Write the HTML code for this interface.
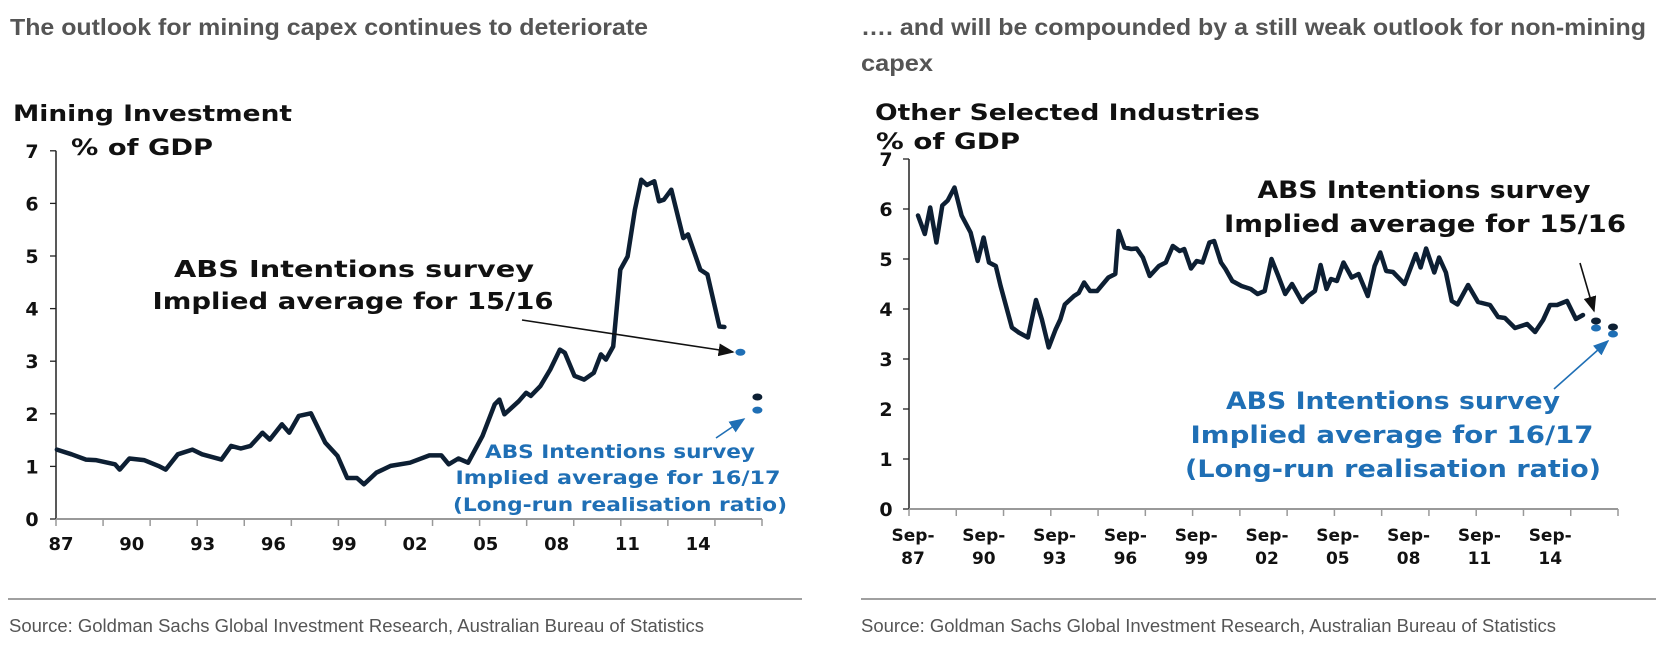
<!DOCTYPE html>
<html><head><meta charset="utf-8"><style>
html,body{margin:0;padding:0;background:#fff;}
svg{display:block;}
.t{font-family:"Liberation Sans",sans-serif;font-weight:bold;fill:#555;font-size:23px;}
.s{font-family:"Liberation Sans",sans-serif;fill:#555;font-size:18px;}
.v{font-family:"DejaVu Sans",sans-serif;font-weight:bold;fill:#111;}
.b{font-family:"DejaVu Sans",sans-serif;font-weight:bold;fill:#1f6fb5;}
</style></head><body>
<svg id="svg" width="1672" height="649" viewBox="0 0 1672 649">
<defs>
<marker id="ak" markerWidth="10" markerHeight="8" refX="9" refY="4" orient="auto"><path d="M0,0 L10,4 L0,8 z" fill="#111"/></marker>
<marker id="ab" markerWidth="10" markerHeight="8" refX="9" refY="4" orient="auto"><path d="M0,0 L10,4 L0,8 z" fill="#1f6fb5"/></marker>
</defs>
<text class="t" x="10" y="35" textLength="638" lengthAdjust="spacingAndGlyphs">The outlook for mining capex continues to deteriorate</text>
<text class="t" x="861" y="35" textLength="785" lengthAdjust="spacingAndGlyphs">…. and will be compounded by a still weak outlook for non-mining</text>
<text class="t" x="861" y="71" textLength="72" lengthAdjust="spacingAndGlyphs">capex</text>
<line x1="8" y1="599" x2="802" y2="599" stroke="#a0a0a0" stroke-width="2"/>
<line x1="861" y1="599" x2="1656" y2="599" stroke="#a0a0a0" stroke-width="2"/>
<text class="s" x="9" y="632" textLength="695" lengthAdjust="spacingAndGlyphs">Source: Goldman Sachs Global Investment Research, Australian Bureau of Statistics</text>
<text class="s" x="861" y="632" textLength="695" lengthAdjust="spacingAndGlyphs">Source: Goldman Sachs Global Investment Research, Australian Bureau of Statistics</text>

<text class="v" x="13" y="121" font-size="22" textLength="279" lengthAdjust="spacingAndGlyphs">Mining Investment</text>
<text class="v" x="71" y="155" font-size="22" textLength="142" lengthAdjust="spacingAndGlyphs">% of GDP</text>
<text class="v" x="875" y="120" font-size="22" textLength="385" lengthAdjust="spacingAndGlyphs">Other Selected Industries</text>
<text class="v" x="876" y="149" font-size="22" textLength="144" lengthAdjust="spacingAndGlyphs">% of GDP</text>

<g id="left"></g>
<g id="right"></g>

<line x1="522" y1="320" x2="733" y2="352" stroke="#111" stroke-width="1.6" marker-end="url(#ak)"/>
<line x1="716" y1="438" x2="744" y2="419" stroke="#1f6fb5" stroke-width="1.6" marker-end="url(#ab)"/>
<text class="v" x="354" y="277" font-size="23" text-anchor="middle" textLength="360" lengthAdjust="spacingAndGlyphs">ABS Intentions survey</text>
<text class="v" x="353" y="309" font-size="23" text-anchor="middle" textLength="401" lengthAdjust="spacingAndGlyphs">Implied average for 15/16</text>
<text class="b" x="620" y="458" font-size="19" text-anchor="middle" textLength="270" lengthAdjust="spacingAndGlyphs">ABS Intentions survey</text>
<text class="b" x="618" y="484" font-size="19" text-anchor="middle" textLength="325" lengthAdjust="spacingAndGlyphs">Implied average for 16/17</text>
<text class="b" x="620" y="511" font-size="19" text-anchor="middle" textLength="334" lengthAdjust="spacingAndGlyphs">(Long-run realisation  ratio)</text>

<line x1="1580" y1="263" x2="1594" y2="311" stroke="#111" stroke-width="1.6" marker-end="url(#ak)"/>
<line x1="1554" y1="389" x2="1608" y2="341" stroke="#1f6fb5" stroke-width="1.6" marker-end="url(#ab)"/>
<text class="v" x="1424" y="198" font-size="24" text-anchor="middle" textLength="333" lengthAdjust="spacingAndGlyphs">ABS Intentions survey</text>
<text class="v" x="1425" y="232" font-size="24" text-anchor="middle" textLength="402" lengthAdjust="spacingAndGlyphs">Implied average for 15/16</text>
<text class="b" x="1393" y="409" font-size="24" text-anchor="middle" textLength="334" lengthAdjust="spacingAndGlyphs">ABS Intentions survey</text>
<text class="b" x="1392" y="443" font-size="24" text-anchor="middle" textLength="403" lengthAdjust="spacingAndGlyphs">Implied average for 16/17</text>
<text class="b" x="1393" y="477" font-size="24" text-anchor="middle" textLength="416" lengthAdjust="spacingAndGlyphs">(Long-run realisation ratio)</text>
</svg>
<script>
// ---- Left chart data (mining investment, % of GDP) ----
const leftYears = [1987.04,1987.66,1988.27,1988.68,1989.5,1989.7,1990.11,1990.73,1991.34,1991.65,1992.16,1992.78,1993.19,1994.01,1994.42,1994.83,1995.24,1995.75,1996.06,1996.57,1996.88,1997.29,1997.8,1998.41,1998.93,1999.34,1999.75,2000.05,2000.57,2001.18,2002.0,2002.82,2003.33,2003.64,2004.05,2004.46,2005.07,2005.59,2005.79,2006.0,2006.61,2006.92,2007.12,2007.53,2007.94,2008.35,2008.56,2008.97,2009.38,2009.79,2010.09,2010.3,2010.61,2010.91,2011.22,2011.53,2011.8,2012.04,2012.35,2012.55,2012.76,2013.07,2013.58,2013.78,2014.3,2014.6,2015.11,2015.32];
const leftValues = [1.32,1.23,1.13,1.12,1.04,0.94,1.15,1.12,1.01,0.94,1.23,1.32,1.23,1.13,1.39,1.34,1.39,1.64,1.51,1.80,1.64,1.96,2.01,1.45,1.20,0.78,0.78,0.66,0.88,1.01,1.07,1.21,1.21,1.04,1.15,1.07,1.58,2.18,2.27,1.99,2.24,2.40,2.34,2.53,2.84,3.22,3.16,2.72,2.65,2.78,3.13,3.03,3.28,4.74,4.99,5.88,6.45,6.35,6.42,6.04,6.07,6.26,5.34,5.41,4.74,4.65,3.66,3.65];
const leftSurveyYears = [2016.0, 2016.72, 2016.72];
const leftSurveyValues = [3.17, 2.32, 2.07];
const leftSurveyKinds = ['blue','dark','blue'];
const leftTicks = [0,1,2,3,4,5,6,7];
const leftXLabels = ['87','90','93','96','99','02','05','08','11','14'];
const leftXLabelYears = [1987,1990,1993,1996,1999,2002,2005,2008,2011,2014];

// ---- Right chart data (other selected industries, % of GDP) ----
const rightYears = [1988.13,1988.42,1988.65,1988.91,1989.16,1989.39,1989.68,1989.98,1990.36,1990.66,1990.91,1991.14,1991.43,1991.63,1992.11,1992.4,1992.79,1993.13,1993.38,1993.67,1993.96,1994.16,1994.35,1994.74,1994.94,1995.17,1995.42,1995.72,1996.2,1996.49,1996.63,1996.88,1997.17,1997.4,1997.66,1997.95,1998.34,1998.63,1998.93,1999.22,1999.41,1999.7,1999.94,2000.19,2000.48,2000.68,2000.97,2001.16,2001.45,2001.84,2002.23,2002.52,2002.82,2003.11,2003.4,2003.69,2003.98,2004.41,2004.66,2004.95,2005.19,2005.44,2005.63,2005.88,2006.16,2006.51,2006.8,2007.19,2007.48,2007.72,2007.97,2008.26,2008.75,2009.23,2009.43,2009.66,2010.01,2010.21,2010.5,2010.75,2010.99,2011.44,2011.86,2012.37,2012.71,2013.0,2013.43,2013.94,2014.28,2014.62,2014.91,2015.21,2015.63,2016.01,2016.31];
const rightValues = [5.87,5.5,6.03,5.33,6.07,6.17,6.43,5.87,5.53,4.96,5.43,4.93,4.86,4.46,3.63,3.53,3.43,4.18,3.79,3.23,3.59,3.79,4.09,4.26,4.32,4.53,4.36,4.36,4.63,4.70,5.56,5.23,5.2,5.21,5.03,4.66,4.86,4.93,5.26,5.16,5.2,4.81,4.96,4.93,5.33,5.36,4.93,4.80,4.56,4.46,4.40,4.30,4.36,5.0,4.66,4.30,4.50,4.14,4.26,4.36,4.88,4.40,4.60,4.56,4.93,4.63,4.70,4.26,4.86,5.13,4.76,4.74,4.50,5.10,4.83,5.21,4.73,5.03,4.73,4.16,4.09,4.48,4.14,4.08,3.84,3.82,3.62,3.7,3.54,3.78,4.08,4.08,4.16,3.8,3.88];
const rightSurveyYears = [2016.86, 2016.86, 2017.58, 2017.58];
const rightSurveyValues = [3.76, 3.62, 3.64, 3.50];
const rightSurveyKinds = ['dark','blue','dark','blue'];
const rightTicks = [0,1,2,3,4,5,6,7];
const rightXLabels = ['87','90','93','96','99','02','05','08','11','14'];
const rightXLabelYears = [1987.75,1990.75,1993.75,1996.75,1999.75,2002.75,2005.75,2008.75,2011.75,2014.75];

const NS='http://www.w3.org/2000/svg';
function mk(tag, attrs, parent){const e=document.createElementNS(NS,tag);for(const k in attrs)e.setAttribute(k,attrs[k]);parent.appendChild(e);return e;}

function drawChart(g, cfg){
  const xs=y=>cfg.x0+(y-cfg.year0)*cfg.pxYear;
  const ys=v=>cfg.y0-v*cfg.pxUnit;
  // axes
  const ya=mk('line',{x1:cfg.x0,y1:ys(7),x2:cfg.x0,y2:cfg.y0,stroke:'#222','stroke-width':1.5},g);
  
  
  const xa=mk('line',{x1:cfg.x0,y1:cfg.y0,x2:cfg.xEnd,y2:cfg.y0,stroke:'#999','stroke-width':2},g);
  
  
  cfg.ticks.forEach(t=>{
    const tk=mk('line',{x1:cfg.x0-6,y1:ys(t),x2:cfg.x0,y2:ys(t),stroke:'#222','stroke-width':1.3},g);
    
    
    const lb=mk('text',{x:cfg.yLabX,y:ys(t)+7,'text-anchor':'middle','font-size':19,class:'v'},g);
    lb.textContent=String(t);
    
    
  });
  for(let i=0;i<=15;i++){
    const xx=cfg.x0+i*(cfg.xEnd-cfg.x0)/15;
    const tk=mk('line',{x1:xx,y1:cfg.y0,x2:xx,y2:cfg.y0+7,stroke:'#999','stroke-width':1.5},g);
    
    
  }
  cfg.xLabels.forEach((l,i)=>{
    const xx=xs(cfg.xLabelYears[i])+cfg.labOff;
    if(cfg.sep){
      const a=mk('text',{x:xx,y:cfg.labY,'text-anchor':'middle','font-size':17,class:'v'},g);
      a.textContent='Sep-';
      
      
      const b=mk('text',{x:xx,y:cfg.labY+23,'text-anchor':'middle','font-size':17,class:'v'},g);
      b.textContent=l;
      
      
    } else {
      const a=mk('text',{x:xx,y:cfg.labY,'text-anchor':'middle','font-size':18,class:'v'},g);
      a.textContent=l;
      
      
    }
  });
  const d=cfg.years.map((y,i)=>(i?'L':'M')+xs(y).toFixed(1)+','+ys(cfg.values[i]).toFixed(1)).join(' ');
  const p=mk('path',{d:d,fill:'none',stroke:'#0d1f33','stroke-width':4.5,'stroke-linejoin':'round','stroke-linecap':'round'},g);
  
  
  cfg.sYears.forEach((y,i)=>{
    const e=mk('ellipse',{cx:xs(y),cy:ys(cfg.sValues[i]),rx:5,ry:3.5,fill:cfg.sKinds[i]==='blue'?'#1f6fb5':'#0d1f33'},g);
    
    
  });
}
drawChart(document.getElementById('left'),{x0:56,xEnd:762,y0:519,pxUnit:52.6,year0:1987,pxYear:23.6,ticks:leftTicks,yLabX:32,
  years:leftYears,values:leftValues,sYears:leftSurveyYears,sValues:leftSurveyValues,sKinds:leftSurveyKinds,
  xLabels:leftXLabels,xLabelYears:leftXLabelYears,labOff:5,labY:550,sep:false});
drawChart(document.getElementById('right'),{x0:909,xEnd:1618,y0:509,pxUnit:50,year0:1987.75,pxYear:23.6,ticks:rightTicks,yLabX:886,
  years:rightYears,values:rightValues,sYears:rightSurveyYears,sValues:rightSurveyValues,sKinds:rightSurveyKinds,
  xLabels:rightXLabels,xLabelYears:rightXLabelYears,labOff:4,labY:541,sep:true});
</script>
</body></html>
